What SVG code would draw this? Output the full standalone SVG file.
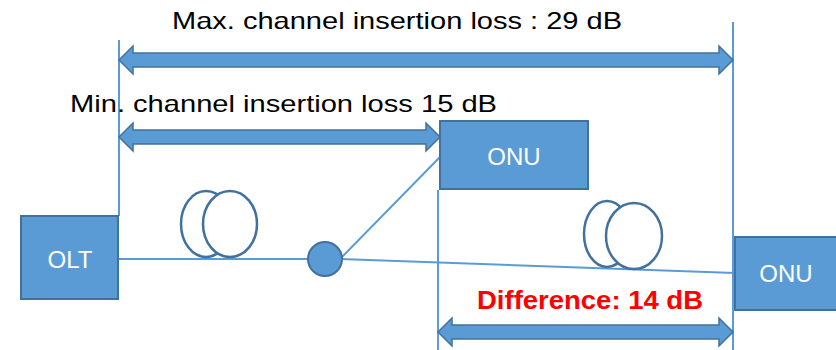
<svg xmlns="http://www.w3.org/2000/svg" width="836" height="350" viewBox="0 0 836 350">
<style>
.box{fill:#5b9bd5;stroke:#41719c;stroke-width:2}
.lbl{font-family:"Liberation Sans",Arial,sans-serif;font-size:24px;fill:#fff;text-anchor:middle}
.ttl{font-family:"Liberation Sans",Arial,sans-serif;font-size:24px;fill:#000}
.diff{font-family:"Liberation Sans",Arial,sans-serif;font-size:26px;font-weight:bold;fill:#ff0000}
.ln{stroke:#5b9bd5;stroke-width:2;fill:none}
.arr{fill:#5b9bd5;stroke:#41719c;stroke-width:1.5}
.coil{fill:#fff;stroke:#41719c;stroke-width:2.5}
</style>
<rect width="836" height="350" fill="#fff"/>
<g id="connectors">
<line class="ln" x1="119" y1="40" x2="119" y2="216"/>
<line class="ln" x1="438" y1="190" x2="438" y2="350"/>
<line class="ln" x1="733" y1="22" x2="733" y2="350"/>
<line class="ln" x1="118" y1="259" x2="310" y2="259"/>
<line class="ln" x1="340" y1="259" x2="440" y2="157"/>
<line class="ln" x1="340" y1="259" x2="735" y2="273"/>
<path class="arr" d="M119,60 L133,46 L133,53 L719,53 L719,46 L733,60 L719,74 L719,67 L133,67 L133,74 Z"/>
<path class="arr" d="M119,137 L133,123 L133,130 L426,130 L426,123 L440,137 L426,151 L426,144 L133,144 L133,151 Z"/>
<path class="arr" d="M438,332 L452,318 L452,325 L719,325 L719,318 L733,332 L719,346 L719,339 L452,339 L452,346 Z"/>
</g>
<g id="coil1">
<ellipse class="coil" cx="206" cy="224" rx="25" ry="33"/>
<ellipse class="coil" cx="230" cy="224" rx="27" ry="33"/>
</g>
<g id="coil2">
<ellipse class="coil" cx="607" cy="234" rx="23" ry="33"/>
<ellipse class="coil" cx="634" cy="236" rx="28" ry="33"/>
</g>
<g id="splitter">
<circle class="box" cx="325" cy="259" r="17" stroke-width="2.5"/>
</g>
<g id="olt">
<rect class="box" x="21" y="216" width="97" height="83"/>
<text class="lbl" x="70" y="268">OLT</text>
</g>
<g id="onu1">
<rect class="box" x="440" y="121" width="148" height="68"/>
<text class="lbl" x="514" y="165">ONU</text>
</g>
<g id="onu2">
<rect class="box" x="735" y="237" width="102" height="73"/>
<text class="lbl" x="786" y="282">ONU</text>
</g>
<g id="labels">
<text class="ttl" x="172" y="29" textLength="450" lengthAdjust="spacingAndGlyphs">Max. channel insertion loss : 29 dB</text>
<text class="ttl" x="70" y="112" textLength="427" lengthAdjust="spacingAndGlyphs">Min. channel insertion loss 15 dB</text>
<text class="diff" x="477" y="309" textLength="226" lengthAdjust="spacingAndGlyphs">Difference: 14 dB</text>
</g>
</svg>
